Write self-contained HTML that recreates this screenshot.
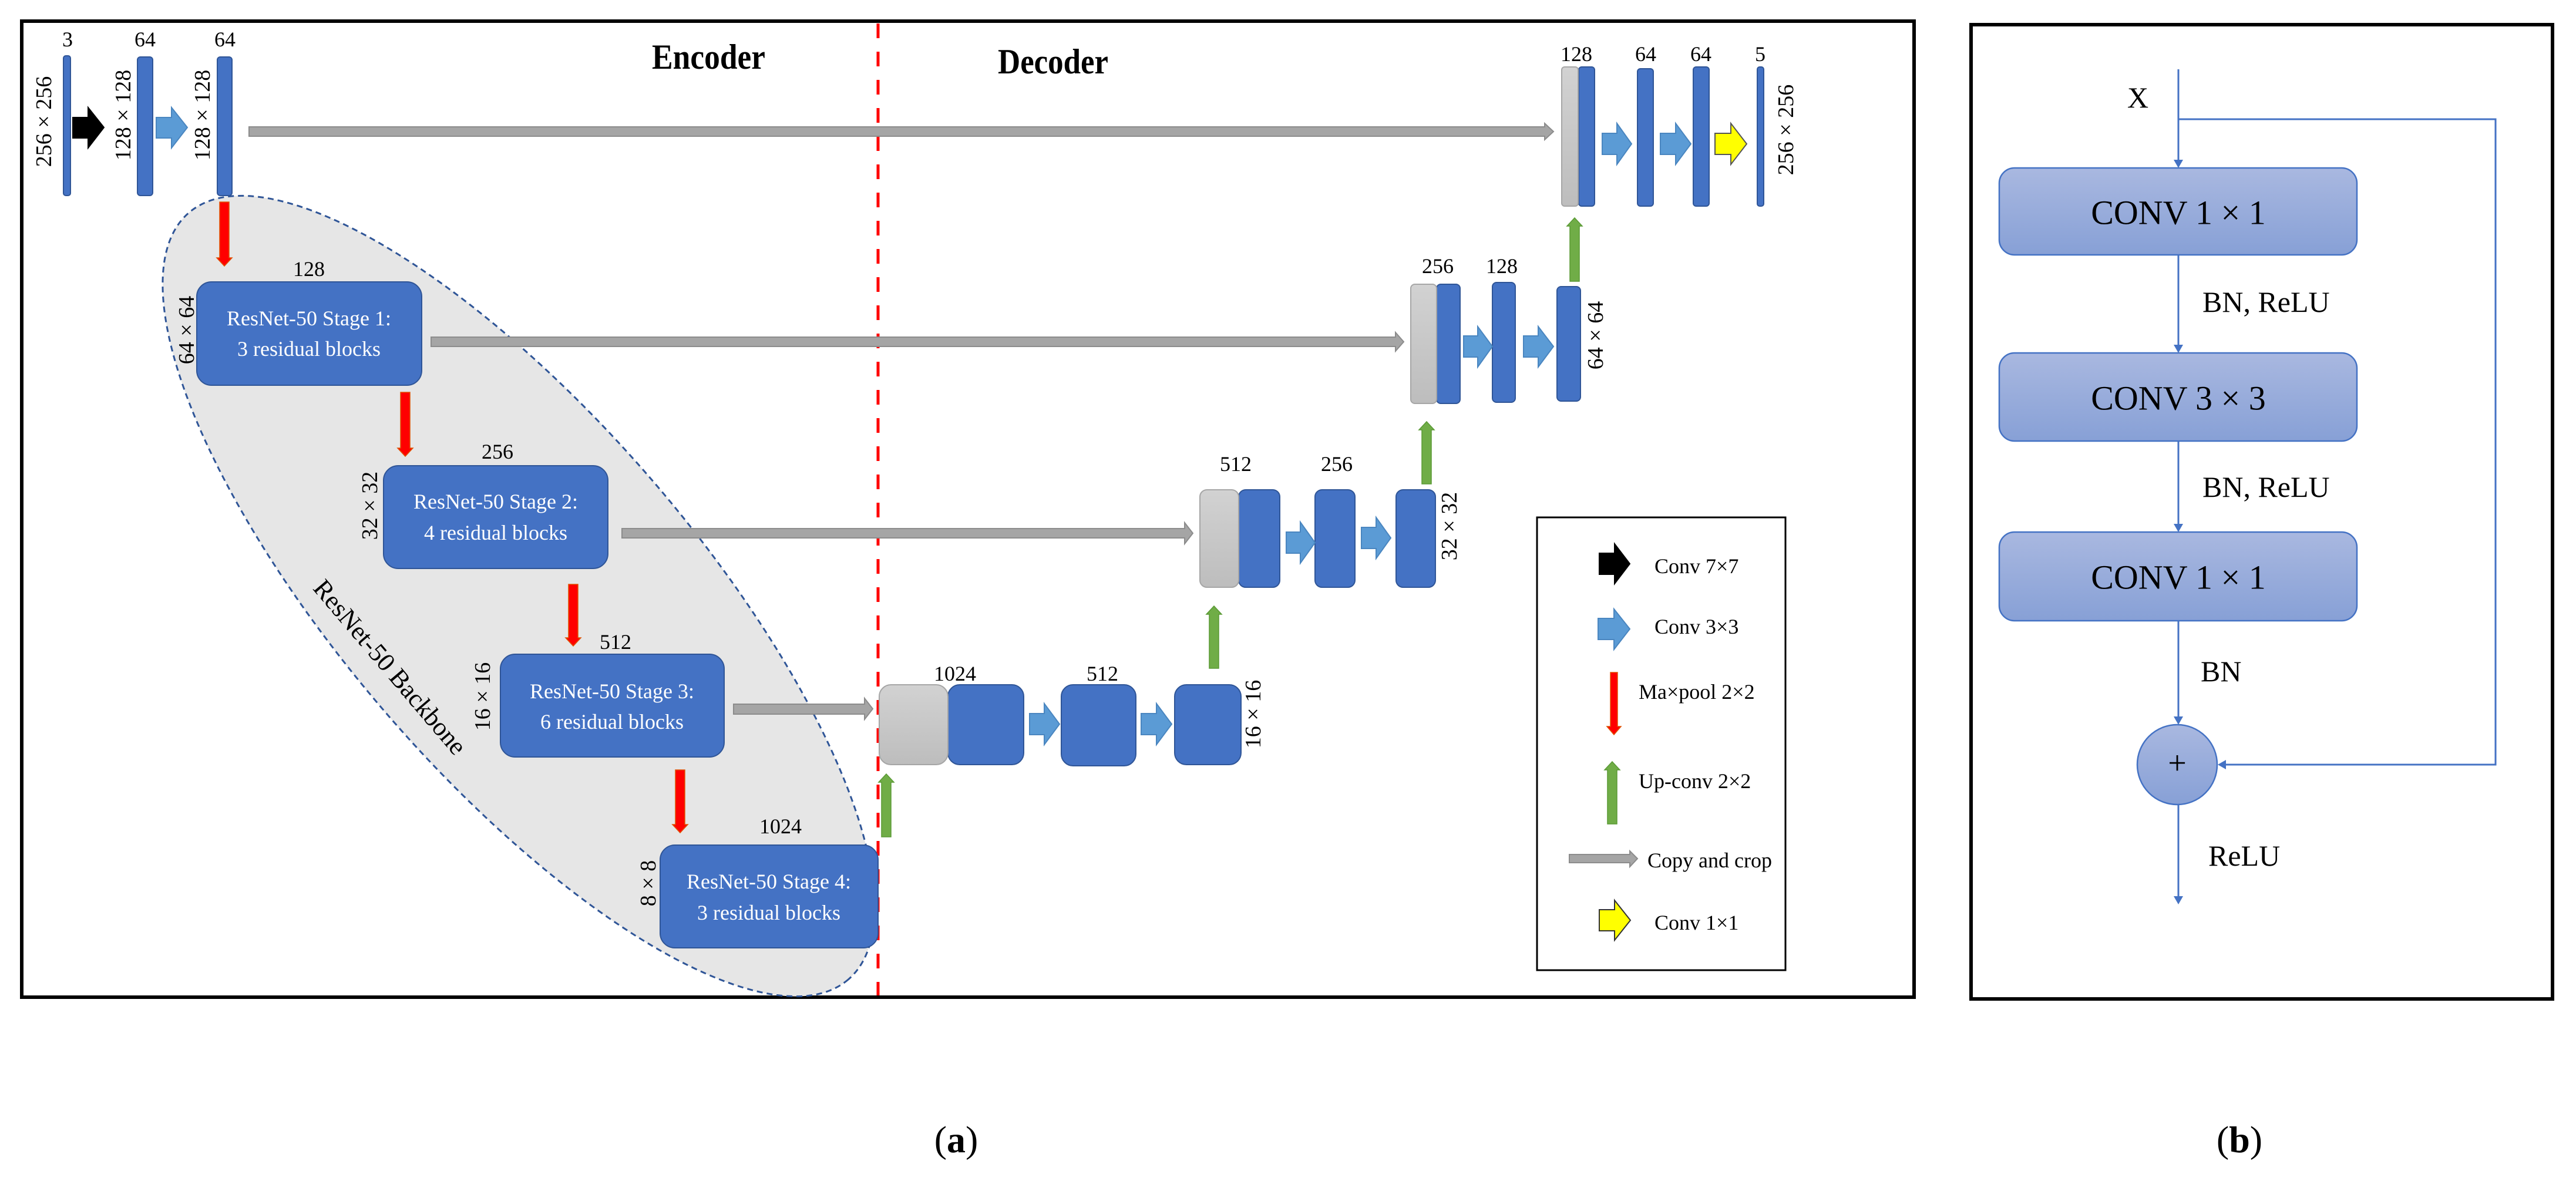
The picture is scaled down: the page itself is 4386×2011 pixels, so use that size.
<!DOCTYPE html>
<html><head><meta charset="utf-8"><style>
html,body{margin:0;padding:0;background:#fff;}
svg{display:block;}
text{font-family:"Liberation Serif",serif;}
</style></head><body>
<svg width="4386" height="2011" viewBox="0 0 4386 2011" xmlns="http://www.w3.org/2000/svg">
<defs>
<linearGradient id="gg" x1="0" y1="0" x2="0" y2="1"><stop offset="0" stop-color="#d2d2d2"/><stop offset="1" stop-color="#bdbdbd"/></linearGradient>
<linearGradient id="bg" x1="0" y1="0" x2="0" y2="1"><stop offset="0" stop-color="#a9b8e0"/><stop offset="1" stop-color="#87a0d6"/></linearGradient>
</defs>
<rect x="0" y="0" width="4386" height="2011" fill="#fff"/>
<rect x="37" y="36" width="3222" height="1662" fill="none" stroke="#000" stroke-width="6"/>
<ellipse cx="883" cy="1015" rx="861" ry="301" transform="rotate(49.3 883 1015)" fill="#e6e6e6" stroke="#2f5597" stroke-width="3" stroke-dasharray="10 7"/>
<text x="664" y="1136" font-size="44" text-anchor="middle" dominant-baseline="central" transform="rotate(49.6 664 1136)">ResNet-50 Backbone</text>
<line x1="1495" y1="40" x2="1495" y2="1695" stroke="#ff0000" stroke-width="5" stroke-dasharray="25 23"/>
<text x="1110" y="117" font-size="60" font-weight="bold" textLength="193" lengthAdjust="spacingAndGlyphs">Encoder</text>
<text x="1699" y="125" font-size="60" font-weight="bold" textLength="188" lengthAdjust="spacingAndGlyphs">Decoder</text>

<g fill="#a5a5a5" stroke="#8c8c8c" stroke-width="2">
<polygon points="424,216 2630,216 2630,210 2645,224 2630,238 2630,232 424,232"/>
<polygon points="734,574 2376,574 2376,566 2390,582 2376,598 2376,590 734,590"/>
<polygon points="1059,900 2017,900 2017,890 2031,908 2017,926 2017,916 1059,916"/>
<polygon points="1249,1199 1472,1199 1472,1189 1486,1207 1472,1225 1472,1216 1249,1216"/>
<polygon points="2672,1455 2775,1455 2775,1449 2788,1462 2775,1476 2775,1469 2672,1469"/>
</g>

<g fill="#4472c4" stroke="#2f5597" stroke-width="2">
<rect x="108" y="95" width="12" height="238" rx="4"/>
<rect x="234" y="97" width="26" height="236" rx="5"/>
<rect x="370" y="97" width="25" height="236" rx="5"/>
<rect x="2688" y="114" width="27" height="237" rx="5"/>
<rect x="2788" y="117" width="27" height="234" rx="5"/>
<rect x="2883" y="114" width="27" height="237" rx="5"/>
<rect x="2992" y="114" width="11" height="237" rx="4"/>
<rect x="2446" y="484" width="40" height="203" rx="7"/>
<rect x="2541" y="481" width="39" height="204" rx="7"/>
<rect x="2651" y="488" width="40" height="195" rx="7"/>
<rect x="2109" y="834" width="70" height="166" rx="12"/>
<rect x="2239" y="834" width="68" height="166" rx="12"/>
<rect x="2377" y="834" width="67" height="166" rx="12"/>
<rect x="1614" y="1166" width="129" height="136" rx="20"/>
<rect x="1807" y="1166" width="127" height="138" rx="20"/>
<rect x="2000" y="1166" width="113" height="136" rx="20"/>
<rect x="335" y="480" width="383" height="176" rx="25"/>
<rect x="653" y="793" width="382" height="175" rx="25"/>
<rect x="852" y="1114" width="381" height="175" rx="25"/>
<rect x="1124" y="1439" width="371" height="175" rx="25"/>
</g>
<g fill="url(#gg)" stroke="#a6a6a6" stroke-width="2">
<rect x="2659" y="114" width="28" height="237" rx="5"/>
<rect x="2402" y="484" width="44" height="203" rx="7"/>
<rect x="2043" y="834" width="66" height="166" rx="12"/>
<rect x="1497" y="1166" width="117" height="136" rx="20"/>
</g>

<g stroke-width="2">
<polygon fill="#000" stroke="#000" points="124,200 150,200 150,183 177,217 150,252 150,235 124,235"/>
<polygon fill="#5b9bd5" stroke="#4a86c0" points="266,200 292,200 292,183 319,217 292,252 292,235 266,235"/>
<polygon fill="#5b9bd5" stroke="#4a86c0" points="2728,227 2753,227 2753,210 2778,245 2753,280 2753,263 2728,263"/>
<polygon fill="#5b9bd5" stroke="#4a86c0" points="2827,227 2853,227 2853,210 2879,245 2853,280 2853,263 2827,263"/>
<polygon fill="#ffff00" stroke="#555" points="2920,227 2947,227 2947,210 2974,245 2947,280 2947,263 2920,263"/>
<polygon fill="#5b9bd5" stroke="#4a86c0" points="2492,572 2516,572 2516,556 2541,590 2516,625 2516,608 2492,608"/>
<polygon fill="#5b9bd5" stroke="#4a86c0" points="2594,572 2619,572 2619,556 2645,590 2619,625 2619,608 2594,608"/>
<polygon fill="#5b9bd5" stroke="#4a86c0" points="2190,906 2214,906 2214,889 2239,924 2214,959 2214,942 2190,942"/>
<polygon fill="#5b9bd5" stroke="#4a86c0" points="2318,898 2343,898 2343,881 2368,916 2343,951 2343,934 2318,934"/>
<polygon fill="#5b9bd5" stroke="#4a86c0" points="1753,1215 1778,1215 1778,1198 1804,1233 1778,1268 1778,1251 1753,1251"/>
<polygon fill="#5b9bd5" stroke="#4a86c0" points="1943,1215 1969,1215 1969,1198 1995,1233 1969,1268 1969,1251 1943,1251"/>
<polygon fill="#000" stroke="#000" points="2723,942 2749,942 2749,926 2775,960 2749,994 2749,978 2723,978"/>
<polygon fill="#5b9bd5" stroke="#4a86c0" points="2721,1053 2748,1053 2748,1037 2775,1071 2748,1106 2748,1089 2721,1089"/>
<polygon fill="#ffff00" stroke="#333" points="2723,1549 2749,1549 2749,1533 2776,1567 2749,1601 2749,1585 2723,1585"/>
</g>
<g fill="#ff0000" stroke="#e05000" stroke-width="1.5">
<polygon points="374,344 390,344 390,439 395,439 382,453 369,439 374,439"/>
<polygon points="682,668 698,668 698,763 703,763 690,777 677,763 682,763"/>
<polygon points="968,995 984,995 984,1086 989,1086 976,1100 963,1086 968,1086"/>
<polygon points="1150,1311 1166,1311 1166,1404 1171,1404 1158,1418 1145,1404 1150,1404"/>
<polygon points="2742,1145 2754,1145 2754,1237 2760,1237 2748,1251 2736,1237 2742,1237"/>
</g>
<g fill="#70ad47" stroke="#5a9a35" stroke-width="1.5">
<polygon points="2673,479 2689,479 2689,385 2694,385 2681,371 2668,385 2673,385"/>
<polygon points="2421,824 2437,824 2437,732 2442,732 2429,718 2416,732 2421,732"/>
<polygon points="2059,1138 2075,1138 2075,1046 2080,1046 2067,1032 2054,1046 2059,1046"/>
<polygon points="1501,1425 1517,1425 1517,1332 1522,1332 1509,1318 1496,1332 1501,1332"/>
<polygon points="2737,1403 2753,1403 2753,1311 2758,1311 2745,1297 2732,1311 2737,1311"/>
</g>

<g font-size="36" text-anchor="middle" dominant-baseline="central" fill="#000">
<text x="115" y="67">3</text><text x="247" y="67">64</text><text x="383" y="67">64</text>
<text x="526" y="458">128</text><text x="847" y="769">256</text><text x="1048" y="1093">512</text><text x="1329" y="1407">1024</text>
<text x="2684" y="92">128</text><text x="2802" y="92">64</text><text x="2896" y="92">64</text><text x="2997" y="92">5</text>
<text x="2448" y="453">256</text><text x="2557" y="453">128</text>
<text x="2104" y="790">512</text><text x="2276" y="790">256</text>
<text x="1626" y="1147">1024</text><text x="1877" y="1147">512</text>
</g>
<g font-size="38" text-anchor="middle" dominant-baseline="central" fill="#000">
<text x="75" y="207" transform="rotate(-90 75 207)">256 × 256</text>
<text x="210" y="196" transform="rotate(-90 210 196)">128 × 128</text>
<text x="345" y="196" transform="rotate(-90 345 196)">128 × 128</text>
<text x="318" y="562" transform="rotate(-90 318 562)">64 × 64</text>
<text x="630" y="861" transform="rotate(-90 630 861)">32 × 32</text>
<text x="822" y="1186" transform="rotate(-90 822 1186)">16 × 16</text>
<text x="1104" y="1504" transform="rotate(-90 1104 1504)">8 × 8</text>
<text x="3041" y="221" transform="rotate(-90 3041 221)">256 × 256</text>
<text x="2717" y="571" transform="rotate(-90 2717 571)">64 × 64</text>
<text x="2468" y="896" transform="rotate(-90 2468 896)">32 × 32</text>
<text x="2134" y="1216" transform="rotate(-90 2134 1216)">16 × 16</text>
</g>
<g font-size="36" text-anchor="middle" dominant-baseline="central" fill="#fff">
<text x="526" y="542">ResNet-50 Stage 1:</text><text x="526" y="594">3 residual blocks</text>
<text x="844" y="854">ResNet-50 Stage 2:</text><text x="844" y="907">4 residual blocks</text>
<text x="1042" y="1177">ResNet-50 Stage 3:</text><text x="1042" y="1229">6 residual blocks</text>
<text x="1309" y="1501">ResNet-50 Stage 4:</text><text x="1309" y="1554">3 residual blocks</text>
</g>

<rect x="2617" y="881" width="423" height="771" fill="none" stroke="#000" stroke-width="3"/>
<g font-size="36" dominant-baseline="central" fill="#000">
<text x="2817" y="964">Conv 7×7</text>
<text x="2817" y="1067">Conv 3×3</text>
<text x="2790" y="1178">Ma×pool 2×2</text>
<text x="2790" y="1330">Up-conv 2×2</text>
<text x="2805" y="1465">Copy and crop</text>
<text x="2817" y="1571">Conv 1×1</text>
</g>

<rect x="3356" y="42" width="990" height="1659" fill="none" stroke="#000" stroke-width="6"/>
<g stroke="#4472c4" stroke-width="3" fill="none">
<line x1="3709" y1="118" x2="3709" y2="272"/>
<polyline points="3709,203 4249,203 4249,1302 3790,1302"/>
<line x1="3709" y1="434" x2="3709" y2="588"/>
<line x1="3709" y1="751" x2="3709" y2="893"/>
<line x1="3709" y1="1057" x2="3709" y2="1220"/>
<line x1="3709" y1="1370" x2="3709" y2="1527"/>
</g>
<g fill="#4472c4">
<polygon points="3701,272 3717,272 3709,286"/>
<polygon points="3701,587 3717,587 3709,601"/>
<polygon points="3701,892 3717,892 3709,906"/>
<polygon points="3701,1220 3717,1220 3709,1234"/>
<polygon points="3701,1526 3717,1526 3709,1540"/>
<polygon points="3790,1294 3790,1310 3776,1302"/>
</g>
<g fill="url(#bg)" stroke="#4472c4" stroke-width="2.5">
<rect x="3404" y="286" width="609" height="148" rx="26"/>
<rect x="3404" y="601" width="609" height="150" rx="26"/>
<rect x="3404" y="906" width="609" height="151" rx="26"/>
<circle cx="3707" cy="1302" r="68"/>
</g>
<g font-size="58" text-anchor="middle" dominant-baseline="central" fill="#000">
<text x="3709" y="362">CONV 1 × 1</text>
<text x="3709" y="678">CONV 3 × 3</text>
<text x="3709" y="983">CONV 1 × 1</text>
<text x="3707" y="1300" font-size="56">+</text>
</g>
<g font-size="50" dominant-baseline="central" fill="#000">
<text x="3640" y="166" text-anchor="middle">X</text>
<text x="3750" y="514">BN, ReLU</text>
<text x="3750" y="829">BN, ReLU</text>
<text x="3747" y="1143">BN</text>
<text x="3760" y="1457">ReLU</text>
</g>
<g font-size="64" text-anchor="middle" dominant-baseline="central" fill="#000">
<text x="1628" y="1940">(<tspan font-weight="bold">a</tspan>)</text>
<text x="3813" y="1940">(<tspan font-weight="bold">b</tspan>)</text>
</g>
</svg>
</body></html>
